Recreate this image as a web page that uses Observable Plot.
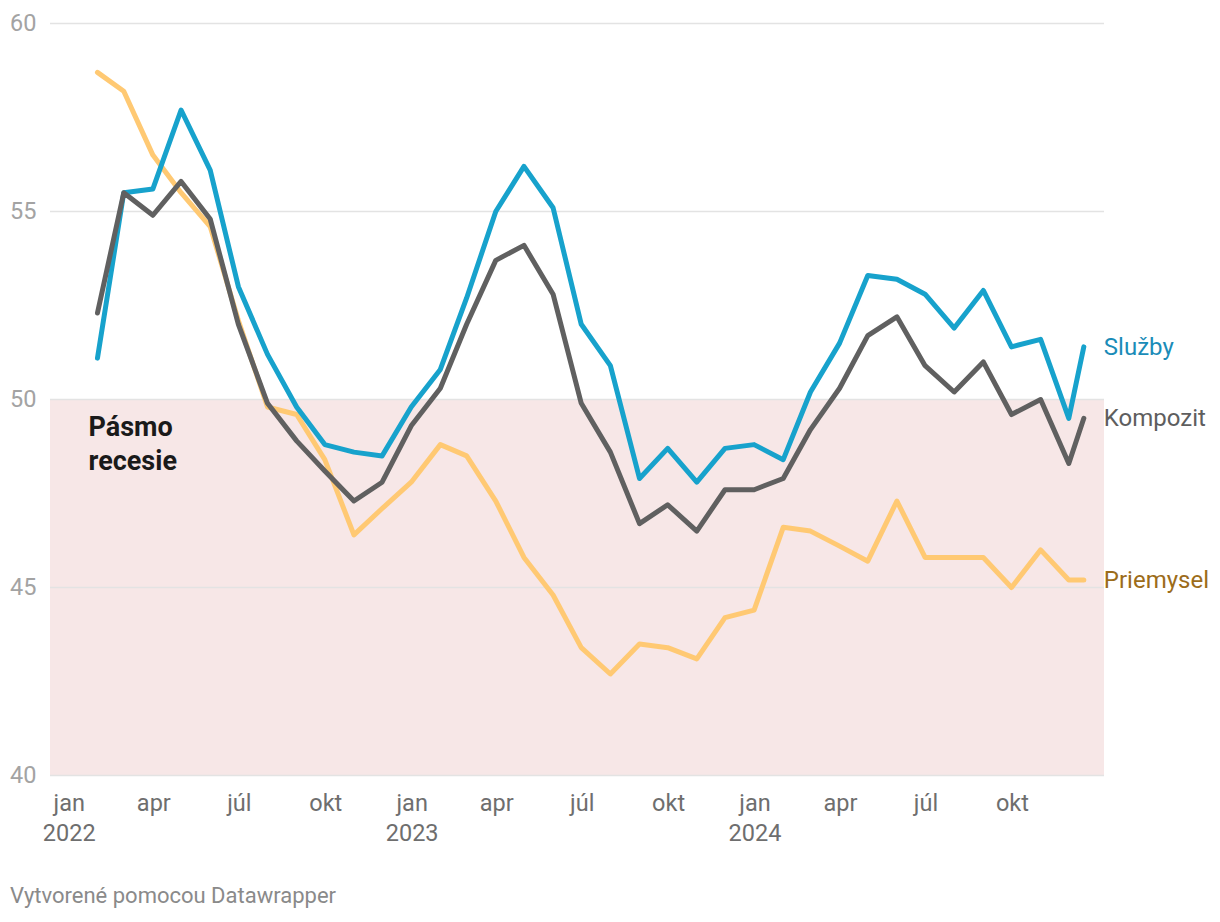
<!DOCTYPE html>
<html><head><meta charset="utf-8">
<script src="https://cdn.jsdelivr.net/npm/d3@7"></script>
<script src="https://cdn.jsdelivr.net/npm/@observablehq/plot@0.6"></script>
<style>
body{margin:0;background:#fff;font-family:Roboto,"Noto Sans",sans-serif;}
#wrap{position:relative;width:1220px;height:922px;}
#footer{position:absolute;left:10px;top:883px;font-size:22px;color:#8a8a8a;font-family:Roboto,sans-serif;}
</style></head><body>
<div id="wrap"><div id="chart"></div><div id="footer">Vytvorené pomocou Datawrapper</div></div>
<script>
const dates = [
  "2022-01-31","2022-02-28","2022-03-31","2022-04-30","2022-05-31","2022-06-30",
  "2022-07-31","2022-08-31","2022-09-30","2022-10-31","2022-11-30","2022-12-31",
  "2023-01-31","2023-02-28","2023-03-31","2023-04-30","2023-05-31","2023-06-30",
  "2023-07-31","2023-08-31","2023-09-30","2023-10-31","2023-11-30","2023-12-31",
  "2024-01-31","2024-02-29","2024-03-31","2024-04-30","2024-05-31","2024-06-30",
  "2024-07-31","2024-08-31","2024-09-30","2024-10-31","2024-11-30","2024-12-16"
];
const sluzby = [51.1,55.5,55.6,57.7,56.1,53.0,51.2,49.8,48.8,48.6,48.5,49.8,
  50.8,52.7,55.0,56.2,55.1,52.0,50.9,47.9,48.7,47.8,48.7,48.8,
  48.4,50.2,51.5,53.3,53.2,52.8,51.9,52.9,51.4,51.6,49.5,51.4];
const kompozit = [52.3,55.5,54.9,55.8,54.8,52.0,49.9,48.9,48.1,47.3,47.8,49.3,
  50.3,52.0,53.7,54.1,52.8,49.9,48.6,46.7,47.2,46.5,47.6,47.6,
  47.9,49.2,50.3,51.7,52.2,50.9,50.2,51.0,49.6,50.0,48.3,49.5];
const priemysel = [58.7,58.2,56.5,55.5,54.6,52.1,49.8,49.6,48.4,46.4,47.1,47.8,
  48.8,48.5,47.3,45.8,44.8,43.4,42.7,43.5,43.4,43.1,44.2,44.4,
  46.6,46.5,46.1,45.7,47.3,45.8,45.8,45.8,45.0,46.0,45.2,45.2];

const seriesNames = ["Priemysel","Služby","Kompozit"];
const seriesValues = [priemysel, sluzby, kompozit];
const lineColors = ["#ffc973","#17a2cc","#606060"];
const labelColors = ["#9c6c1a","#1a8cb8","#5e5e5e"];
const monthLabels = ["jan","feb","mar","apr","máj","jún","júl","aug","sep","okt","nov","dec"];
const yTicks = [40,45,50,55,60];
const recessionBand = [40,50];
const recessionLabel = "Pásmo\nrecesie";

const rows = seriesNames.flatMap((s,i)=>dates.map((d,j)=>({series:s, date:new Date(d), value:seriesValues[i][j]})));
const lastRows = seriesNames.map((s,i)=>({series:s, date:new Date(dates[dates.length-1]), value:seriesValues[i][seriesValues[i].length-1], color:labelColors[i]}));
const xTicks = d3.utcMonth.every(3).range(new Date("2022-01-01"), new Date("2025-01-01"));

const chart = Plot.plot({
  width: 1220,
  height: 860,
  marginTop: 23,
  marginBottom: 85,
  marginLeft: 50,
  marginRight: 116,
  style: {fontFamily: "Roboto, sans-serif", background: "#fff", overflow: "visible"},
  x: {type: "utc", domain: [new Date("2021-12-12"), new Date("2025-01-07")]},
  y: {domain: [40, 60]},
  color: {domain: seriesNames, range: lineColors},
  marks: [
    Plot.rect([recessionBand], {y1: d=>d[0], y2: d=>d[1], fill: "#f7e7e7"}),
    Plot.ruleY(yTicks, {stroke: "#e3e3e3", strokeWidth: 1.5}),
    Plot.axisY({ticks: yTicks, tickSize: 0, tickPadding: 14, fontSize: 23.5, fill: "#a3a3a3", label: null}),
    Plot.axisX({ticks: xTicks, tickSize: 0, tickPadding: 14, fontSize: 23.5, fill: "#6e6e6e", lineHeight: 1.27, label: null,
      tickFormat: d => d.getUTCMonth()===0 ? `${monthLabels[0]}\n${d.getUTCFullYear()}` : monthLabels[d.getUTCMonth()]}),
    Plot.text([recessionLabel], {frameAnchor: "left", y: () => recessionBand[1], dx: 38, dy: 12, lineAnchor: "top",
      textAnchor: "start", fontSize: 27, fontWeight: "bold", fill: "#1a1a1a", lineHeight: 1.26}),
    Plot.line(rows, {x: "date", y: "value", z: "series", stroke: "series", strokeWidth: 5, strokeLinejoin: "round", strokeLinecap: "round"}),
    Plot.text(lastRows, {x: "date", y: "value", text: "series", fill: "color", dx: 20, textAnchor: "start", fontSize: 24})
  ]
});
document.getElementById("chart").appendChild(chart);
</script>
</body></html>
